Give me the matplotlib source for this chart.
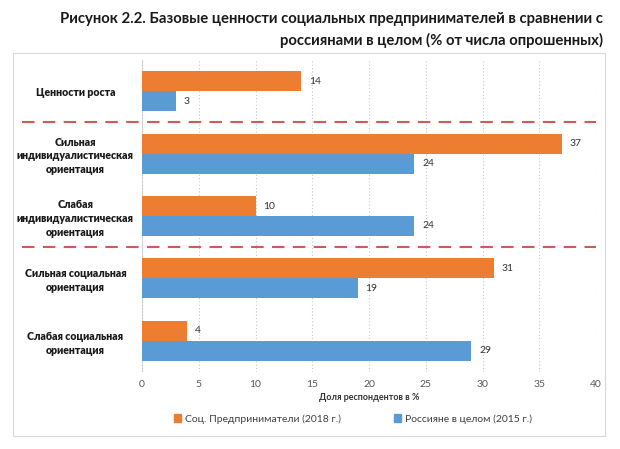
import matplotlib
matplotlib.use("Agg")
import matplotlib.pyplot as plt
import matplotlib.patches as mpatches
import matplotlib.transforms as mtransforms
import numpy as np

categories = ["Ценности роста",
              "Сильная\nиндивидуалистическая\nориентация",
              "Слабая\nиндивидуалистическая\nориентация",
              "Сильная социальная\nориентация",
              "Слабая социальная\nориентация"]
soc_entrepreneurs = [14, 37, 10, 31, 4]
russians = [3, 24, 24, 19, 29]
series_names = ["Соц. Предприниматели (2018 г.)", "Россияне в целом (2015 г.)"]
xticks = [0, 5, 10, 15, 20, 25, 30, 35, 40]
separators_after = [0, 2]  # dashed line after these category indices

plt.rcParams['font.family'] = ['Lato', 'DejaVu Sans']

fig = plt.figure(figsize=(6.2, 4.49), dpi=100)
ax = fig.add_axes([142/620, 1-372/449, (596-142)/620, (372-60)/449])

# chart border
fig.patches.append(mpatches.Rectangle((13/620, 1-436/449), (605-13)/620, (436-53)/449,
                                      transform=fig.transFigure, fill=False,
                                      edgecolor='#d9d9d9', linewidth=0.8))

y = np.arange(len(categories))
h = 0.32
c_or = '#ED7D31'
c_bl = '#5B9BD5'
ax.barh(y - h/2, soc_entrepreneurs, height=h, color=c_or, label=series_names[0], zorder=3)
ax.barh(y + h/2, russians, height=h, color=c_bl, label=series_names[1], zorder=3)

for yi, v in zip(y - h/2, soc_entrepreneurs):
    ax.text(v + 0.7, yi, str(v), va='center', ha='left', fontsize=7.5, color='#333333')
for yi, v in zip(y + h/2, russians):
    ax.text(v + 0.7, yi, str(v), va='center', ha='left', fontsize=7.5, color='#333333')

ax.set_xlim(0, 40)
ax.set_ylim(len(categories) - 0.5, -0.5)
ax.set_xticks(xticks)
ax.set_xticklabels([str(t) for t in xticks], fontsize=7.5, color='#595959')
ax.set_yticks(y)
ax.set_yticklabels(categories, fontsize=7.6, fontweight='heavy', color='#1a1a1a',
                   ha='center', linespacing=1.3)
ax.tick_params(axis='y', length=0, pad=48)
ax.tick_params(axis='x', length=0, pad=6)
for s in ax.spines.values():
    s.set_visible(False)
ax.grid(axis='x', linestyle=(0, (1, 2)), color='#c8c8c8', linewidth=0.8, zorder=0)
ax.axvline(0, color='#d9d9d9', linewidth=0.8, zorder=1)

ax.set_xlabel("Доля респондентов в %", fontsize=6.5, fontweight='bold',
              color='#333333', labelpad=3)

trans = mtransforms.blended_transform_factory(ax.transAxes, ax.transData)
for i in separators_after:
    ax.plot([-0.265, 1.0], [i + 0.5, i + 0.5], transform=trans, clip_on=False,
            color='#d05a5a', linewidth=1.5, dashes=(6, 4), zorder=4)

leg = fig.legend(handles=[mpatches.Patch(color=c_or), mpatches.Patch(color=c_bl)],
                 labels=series_names, loc='center', bbox_to_anchor=(353/620, 1-419/449),
                 ncol=2, frameon=False, fontsize=7.5, handlelength=0.7, handleheight=0.7,
                 columnspacing=5, handletextpad=0.4, labelcolor='#404040')

fig.text(603/620, 1-19/449, "Рисунок 2.2. Базовые ценности социальных предпринимателей в сравнении с",
         ha='right', va='center', fontsize=10.7, fontweight='bold', color='#1a1a1a')
fig.text(603/620, 1-40/449, "россиянами в целом (% от числа опрошенных)",
         ha='right', va='center', fontsize=10.7, fontweight='bold', color='#1a1a1a')

fig.savefig("out.png", dpi=100)
